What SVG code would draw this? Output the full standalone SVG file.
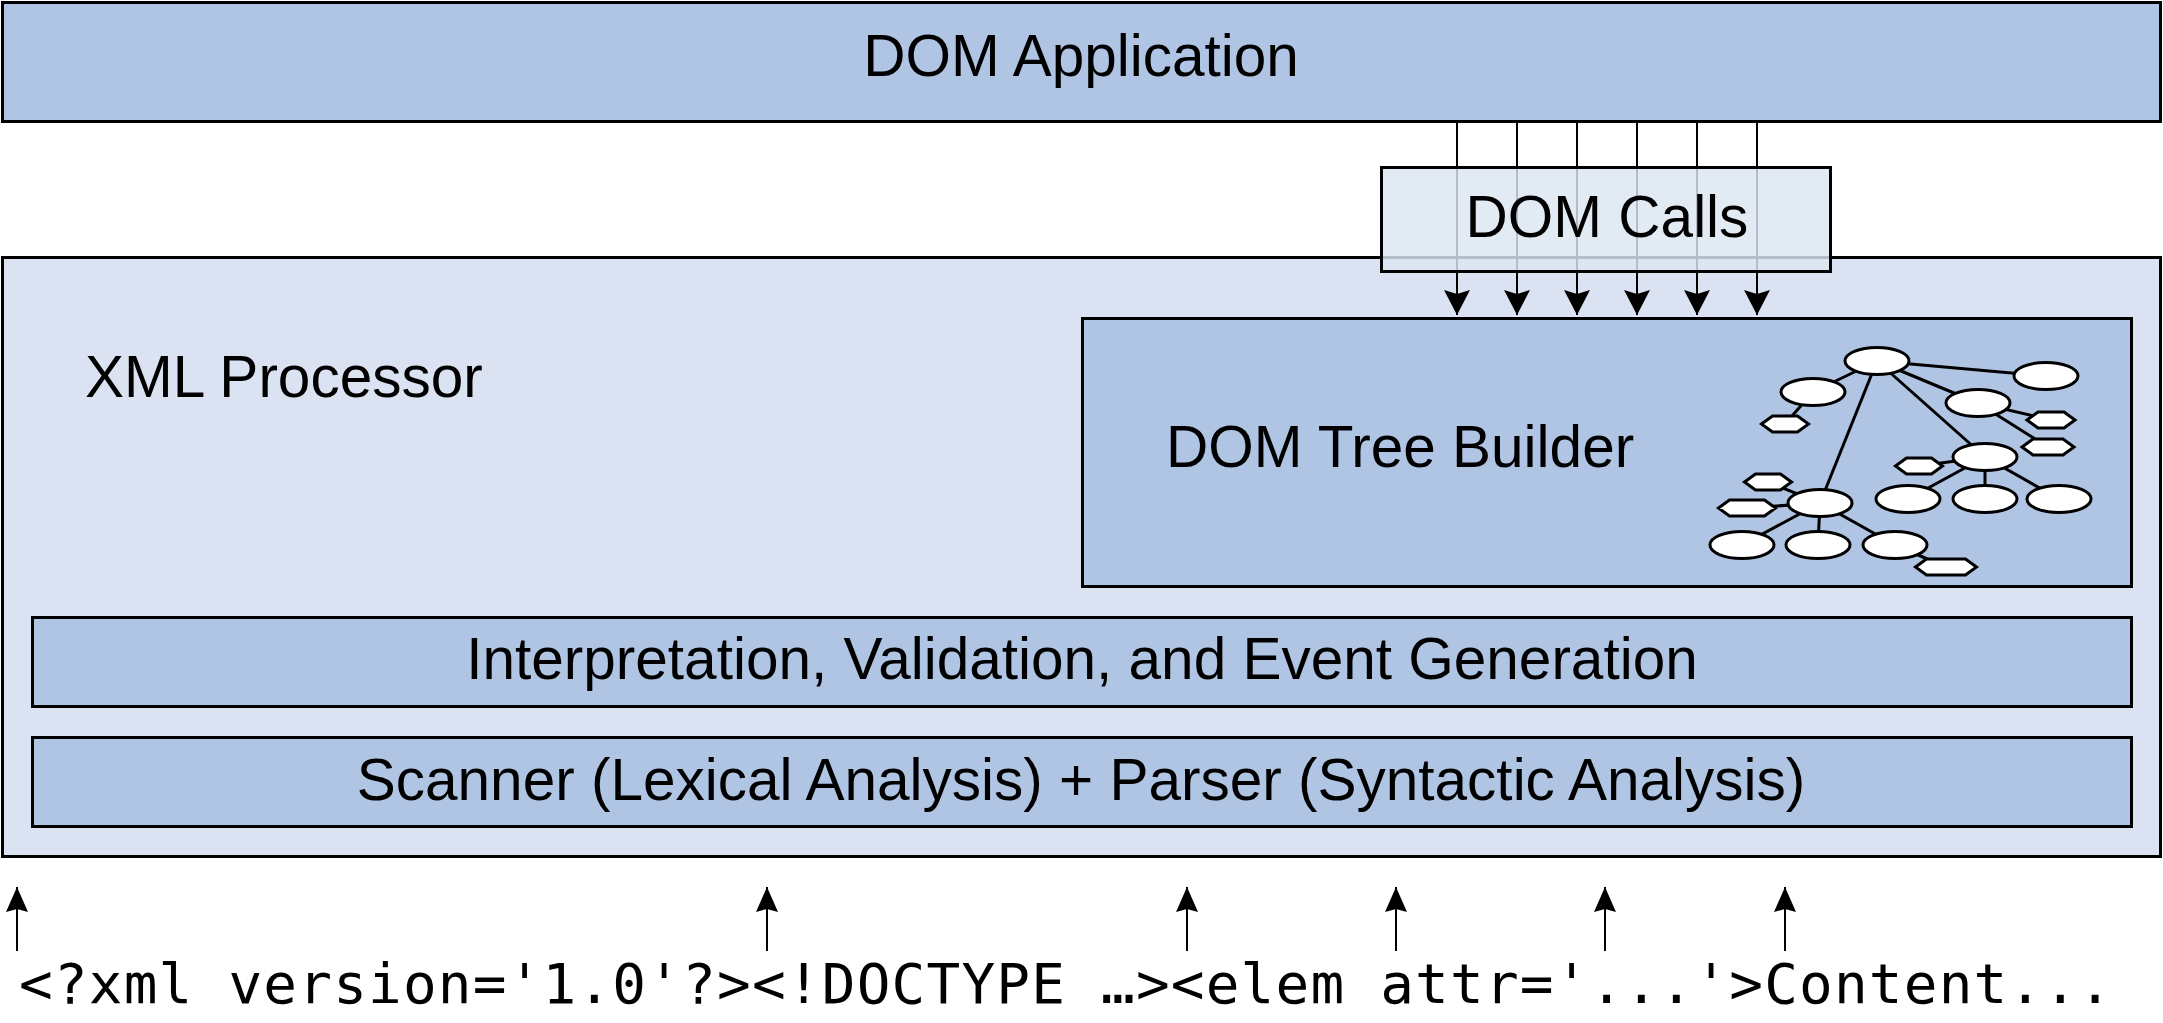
<svg xmlns="http://www.w3.org/2000/svg" width="2163" height="1023" viewBox="0 0 2163 1023">
<style>
  .box { stroke: #000; stroke-width: 3; }
  .dark { fill: #b0c5e4; }
  .light { fill: #dbe2f1; }
  .calls { fill: #dce5f0; fill-opacity: 0.82; stroke: #000; stroke-width: 3; }
  .lbl { font-family: "Liberation Sans", Arial, sans-serif; font-size: 58.5px; fill: #000; }
  .mono { font-family: "DejaVu Sans Mono", monospace; font-size: 56px; fill: #000; }
  .conn { stroke: #000; stroke-width: 2; fill: none; }
  .up { stroke: #000; stroke-width: 2; fill: none; }
  .tl { stroke: #000; stroke-width: 3; }
  .tn { fill: #fff; stroke: #000; stroke-width: 3; }
</style>
<defs>
  <marker id="ah" markerUnits="userSpaceOnUse" markerWidth="26" markerHeight="28" viewBox="0 -14 26 28" refX="25" refY="0" orient="auto">
    <path d="M0,-13 L25,0 L0,13 L4,0 Z" fill="#000"/>
  </marker>
  <marker id="ah2" markerUnits="userSpaceOnUse" markerWidth="26" markerHeight="26" viewBox="0 -13 26 26" refX="25" refY="0" orient="auto">
    <path d="M0,-11 L25,0 L0,11 L3,0 Z" fill="#000"/>
  </marker>
</defs>
<rect width="2163" height="1023" fill="#fff"/>

<g id="dom-application">
  <rect class="box dark" x="2.5" y="2.5" width="2158" height="119"/>
  <text class="lbl" x="1081" y="76" text-anchor="middle">DOM Application</text>
</g>

<g id="xml-processor">
  <rect class="box light" x="2.5" y="257.5" width="2158" height="599"/>
  <text class="lbl" x="85" y="397">XML Processor</text>
</g>

<g id="dom-tree-builder">
  <rect class="box dark" x="1082.5" y="318.5" width="1049" height="268"/>
  <text class="lbl" x="1166" y="467">DOM Tree Builder</text>
  <g id="tree">
    <line class="tl" x1="1877" y1="361" x2="1813" y2="392"/>
    <line class="tl" x1="1877" y1="361" x2="2046" y2="376"/>
    <line class="tl" x1="1877" y1="361" x2="1978" y2="403"/>
    <line class="tl" x1="1877" y1="361" x2="1985" y2="457"/>
    <line class="tl" x1="1877" y1="361" x2="1820" y2="503"/>
    <line class="tl" x1="1813" y1="392" x2="1785" y2="424"/>
    <line class="tl" x1="1978" y1="403" x2="2051" y2="420"/>
    <line class="tl" x1="1978" y1="403" x2="2048" y2="447"/>
    <line class="tl" x1="1985" y1="457" x2="1919" y2="466"/>
    <line class="tl" x1="1985" y1="457" x2="1908" y2="499"/>
    <line class="tl" x1="1985" y1="457" x2="1985" y2="499"/>
    <line class="tl" x1="1985" y1="457" x2="2059" y2="499"/>
    <line class="tl" x1="1820" y1="503" x2="1768" y2="482"/>
    <line class="tl" x1="1820" y1="503" x2="1747" y2="508"/>
    <line class="tl" x1="1820" y1="503" x2="1742" y2="545"/>
    <line class="tl" x1="1820" y1="503" x2="1818" y2="545"/>
    <line class="tl" x1="1820" y1="503" x2="1895" y2="545"/>
    <line class="tl" x1="1895" y1="545" x2="1946" y2="567"/>
    <ellipse class="tn" cx="1877" cy="361" rx="32" ry="13.5"/>
    <ellipse class="tn" cx="2046" cy="376" rx="32" ry="13.5"/>
    <ellipse class="tn" cx="1813" cy="392" rx="32" ry="13.5"/>
    <ellipse class="tn" cx="1978" cy="403" rx="32" ry="13.5"/>
    <ellipse class="tn" cx="1985" cy="457" rx="32" ry="13.5"/>
    <ellipse class="tn" cx="1908" cy="499" rx="32" ry="13.5"/>
    <ellipse class="tn" cx="1985" cy="499" rx="32" ry="13.5"/>
    <ellipse class="tn" cx="2059" cy="499" rx="32" ry="13.5"/>
    <ellipse class="tn" cx="1820" cy="503" rx="32" ry="13.5"/>
    <ellipse class="tn" cx="1742" cy="545" rx="32" ry="13.5"/>
    <ellipse class="tn" cx="1818" cy="545" rx="32" ry="13.5"/>
    <ellipse class="tn" cx="1895" cy="545" rx="32" ry="13.5"/>
    <polygon class="tn" points="1761.5,424 1772.5,416 1797.5,416 1808.5,424 1797.5,432 1772.5,432"/>
    <polygon class="tn" points="2027,420 2038,412 2064,412 2075,420 2064,428 2038,428"/>
    <polygon class="tn" points="2022,447 2033,439 2063,439 2074,447 2063,455 2033,455"/>
    <polygon class="tn" points="1895.5,466 1906.5,458 1931.5,458 1942.5,466 1931.5,474 1906.5,474"/>
    <polygon class="tn" points="1744.5,482 1755.5,474 1780.5,474 1791.5,482 1780.5,490 1755.5,490"/>
    <polygon class="tn" points="1718.5,508 1729.5,500 1764.5,500 1775.5,508 1764.5,516 1729.5,516"/>
    <polygon class="tn" points="1915.5,567 1926.5,559 1965.5,559 1976.5,567 1965.5,575 1926.5,575"/>
  </g>
</g>

<g id="interpretation">
  <rect class="box dark" x="32.5" y="617.5" width="2099" height="89"/>
  <text class="lbl" x="1082" y="679" text-anchor="middle">Interpretation, Validation, and Event Generation</text>
</g>

<g id="scanner-parser">
  <rect class="box dark" x="32.5" y="737.5" width="2099" height="89"/>
  <text class="lbl" x="1081" y="800" text-anchor="middle">Scanner (Lexical Analysis) + Parser (Syntactic Analysis)</text>
</g>

<g id="connectors">
  <line class="conn" x1="1457" y1="122" x2="1457" y2="315" marker-end="url(#ah)"/>
  <line class="conn" x1="1517" y1="122" x2="1517" y2="315" marker-end="url(#ah)"/>
  <line class="conn" x1="1577" y1="122" x2="1577" y2="315" marker-end="url(#ah)"/>
  <line class="conn" x1="1637" y1="122" x2="1637" y2="315" marker-end="url(#ah)"/>
  <line class="conn" x1="1697" y1="122" x2="1697" y2="315" marker-end="url(#ah)"/>
  <line class="conn" x1="1757" y1="122" x2="1757" y2="315" marker-end="url(#ah)"/>
  <line class="up" x1="17" y1="951" x2="17" y2="887" marker-end="url(#ah2)"/>
  <line class="up" x1="767" y1="951" x2="767" y2="887" marker-end="url(#ah2)"/>
  <line class="up" x1="1187" y1="951" x2="1187" y2="887" marker-end="url(#ah2)"/>
  <line class="up" x1="1396" y1="951" x2="1396" y2="887" marker-end="url(#ah2)"/>
  <line class="up" x1="1605" y1="951" x2="1605" y2="887" marker-end="url(#ah2)"/>
  <line class="up" x1="1785" y1="951" x2="1785" y2="887" marker-end="url(#ah2)"/>
</g>

<g id="dom-calls">
  <rect class="calls" x="1381.5" y="167.5" width="449" height="104"/>
  <text class="lbl" x="1607" y="237" text-anchor="middle">DOM Calls</text>
</g>

<g id="input-stream">
  <text class="mono" x="19" y="1003" textLength="2093" lengthAdjust="spacing" xml:space="preserve">&lt;?xml version='1.0'?&gt;&lt;!DOCTYPE …&gt;&lt;elem attr='...'&gt;Content...</text>
</g>
</svg>
